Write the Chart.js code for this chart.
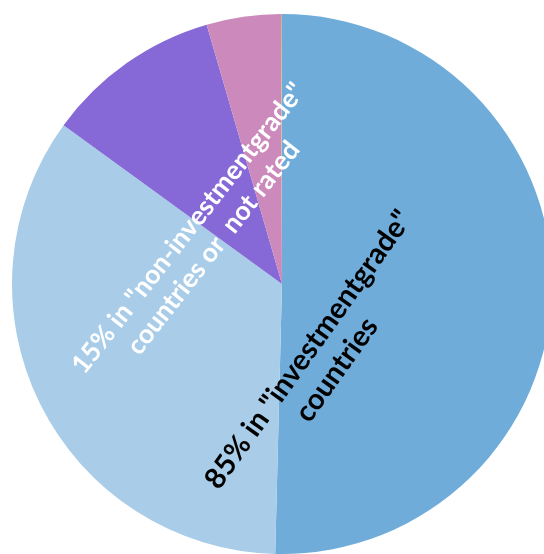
<!DOCTYPE html>
<html>
<head>
<meta charset="utf-8">
<script src="https://cdn.jsdelivr.net/npm/chart.js@4/dist/chart.umd.min.js"></script>
<style>
  html, body { margin: 0; padding: 0; background: #fff; overflow: hidden; }
  #wrap { position: absolute; left: 0; top: 0; width: 564px; height: 554px; }
</style>
</head>
<body>
<div id="wrap"><canvas id="pie"></canvas></div>
<script>
// Shares of the portfolio (percent), clockwise from 12 o'clock
const categories = ['Investment grade A', 'Investment grade B', 'Non-investment grade', 'Not rated', 'Other'];
const shares = [50.4, 34.6, 10.5, 4.44, 0.06];
const colors = ['#6FACDA', '#A9CDE8', '#8669D6', '#CB8ABB', '#C9B98A'];

// Rotated labels: text lines, colour, angle (deg), offset from centre (fraction of radius)
const labels = [
  { lines: ['85% in "investmentgrade"', 'countries'], color: '#000', size: 29, angle: -54.5, dx: 0.15, dy: 0.28 },
  { lines: ['15% in "non-investmentgrade"', 'countries or  not rated'], color: '#fff', size: 26.5, angle: -52, dx: -0.30, dy: -0.17 }
];

const labelPlugin = {
  id: 'rotLabels',
  afterDatasetsDraw(chart) {
    const arc = chart.getDatasetMeta(0).data[0];
    const cx = arc.x, cy = arc.y, r = arc.outerRadius;
    const ctx = chart.ctx;
    labels.forEach(l => {
      ctx.save();
      ctx.translate(cx + l.dx * r, cy + l.dy * r);
      ctx.rotate(l.angle * Math.PI / 180);
      ctx.fillStyle = l.color;
      ctx.font = 'bold ' + l.size + 'px Lato, "Open Sans", sans-serif';
      ctx.textAlign = 'center';
      ctx.textBaseline = 'middle';
      const lh = l.size * 1.2;
      l.lines.forEach((t, i) => {
        ctx.fillText(t, 0, (i - (l.lines.length - 1) / 2) * lh);
      });
      ctx.restore();
    });
  }
};

new Chart(document.getElementById('pie'), {
  type: 'pie',
  data: {
    labels: categories,
    datasets: [{
      data: shares,
      backgroundColor: colors,
      borderWidth: 0
    }]
  },
  options: {
    responsive: true,
    maintainAspectRatio: false,
    animation: false,
    layout: { padding: { top: 14, bottom: 0, left: 0, right: 0 } },
    plugins: {
      legend: { display: false },
      tooltip: { enabled: false }
    }
  },
  plugins: [labelPlugin]
});
</script>
</body>
</html>
